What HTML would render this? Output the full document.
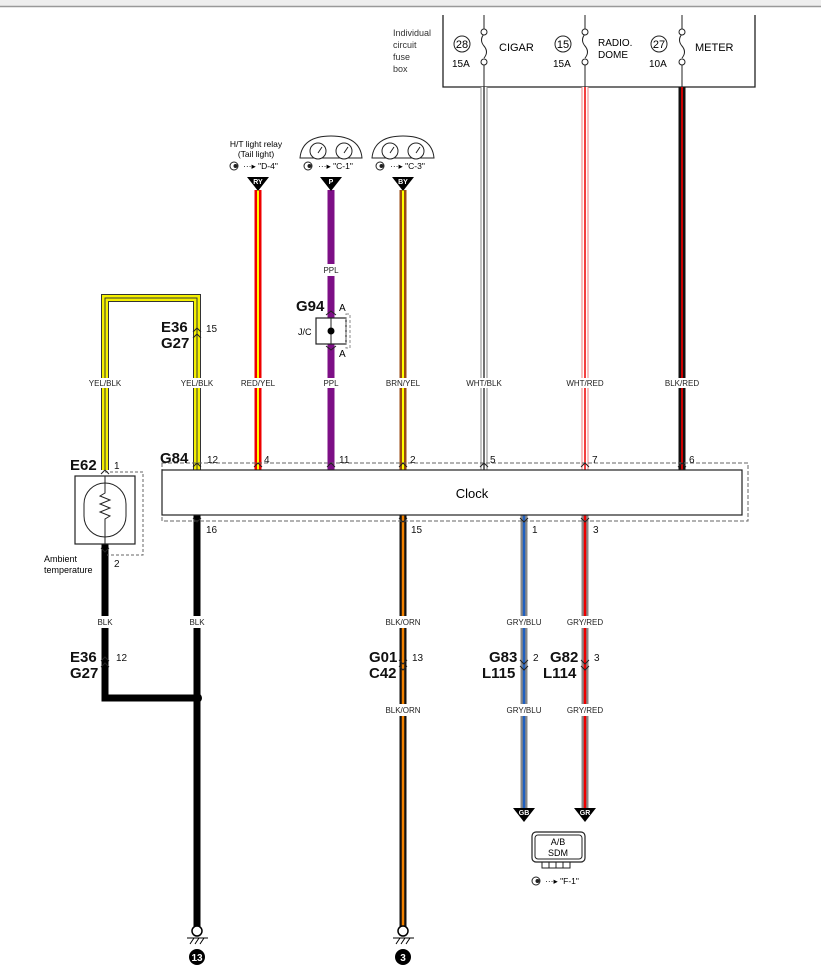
<!DOCTYPE html>
<html><head><meta charset="utf-8"><style>
html,body{margin:0;padding:0;background:#fff;}
svg{display:block;font-family:"Liberation Sans",sans-serif;}
.lb{font-size:8px;fill:#222;text-anchor:middle;}
.pn{font-size:10px;fill:#111;}
.cn{font-size:15px;font-weight:bold;fill:#111;}
</style></head><body>
<svg width="821" height="973" viewBox="0 0 821 973" xmlns="http://www.w3.org/2000/svg">
<defs>
<g id="eye"><circle cx="0" cy="0" r="4" fill="#fff" stroke="#222" stroke-width="1"/><circle cx="1.5" cy="0" r="2" fill="#222"/></g>
</defs>
<rect x="0" y="0" width="821" height="6" fill="#eeeeee"/>
<line x1="0" y1="6.5" x2="821" y2="6.5" stroke="#999" stroke-width="1.5"/>

<!-- fuse box -->
<path d="M443,15 V87 H755 V15" fill="none" stroke="#222" stroke-width="1.3"/>
<text x="393" y="36" font-size="9" fill="#333">Individual</text>
<text x="393" y="48" font-size="9" fill="#333">circuit</text>
<text x="393" y="60" font-size="9" fill="#333">fuse</text>
<text x="393" y="72" font-size="9" fill="#333">box</text>
<g fill="none" stroke="#222" stroke-width="1">
<circle cx="462" cy="44" r="8"/><circle cx="563" cy="44" r="8"/><circle cx="659" cy="44" r="8"/>
</g>
<text x="462" y="48" font-size="11" text-anchor="middle">28</text>
<text x="563" y="48" font-size="11" text-anchor="middle">15</text>
<text x="659" y="48" font-size="11" text-anchor="middle">27</text>
<text x="452" y="67" font-size="10">15A</text>
<text x="553" y="67" font-size="10">15A</text>
<text x="649" y="67" font-size="10">10A</text>
<text x="499" y="51" font-size="11">CIGAR</text>
<text x="598" y="46" font-size="10">RADIO.</text>
<text x="598" y="58" font-size="10">DOME</text>
<text x="695" y="51" font-size="11">METER</text>
<g fill="#fff" stroke="#222" stroke-width="1">
<line x1="484" y1="15" x2="484" y2="30"/><line x1="585" y1="15" x2="585" y2="30"/><line x1="682" y1="15" x2="682" y2="30"/>
<path d="M484,34 q-5,6 0,12 q5,6 0,12" fill="none"/>
<path d="M585,34 q-5,6 0,12 q5,6 0,12" fill="none"/>
<path d="M682,34 q-5,6 0,12 q5,6 0,12" fill="none"/>
<circle cx="484" cy="32" r="3"/><circle cx="484" cy="62" r="3"/>
<circle cx="585" cy="32" r="3"/><circle cx="585" cy="62" r="3"/>
<circle cx="682" cy="32" r="3"/><circle cx="682" cy="62" r="3"/>
<line x1="484" y1="65" x2="484" y2="87"/><line x1="585" y1="65" x2="585" y2="87"/><line x1="682" y1="65" x2="682" y2="87"/>
</g>

<!-- upper wires -->
<g fill="none" stroke-linejoin="miter">
<path d="M105,470 V298 H197 V470" stroke="#333" stroke-width="8"/>
<path d="M105,470 V298 H197 V470" stroke="#f5f000" stroke-width="6"/>
<path d="M105,470 V298 H197 V470" stroke="#333" stroke-width="1"/>
<line x1="258" y1="190" x2="258" y2="470" stroke="#e00" stroke-width="7"/>
<line x1="258" y1="190" x2="258" y2="470" stroke="#ff0" stroke-width="2"/>
<line x1="331" y1="190" x2="331" y2="470" stroke="#7d0f86" stroke-width="7"/>
<line x1="403" y1="190" x2="403" y2="470" stroke="#9a4a12" stroke-width="7"/>
<line x1="403" y1="190" x2="403" y2="470" stroke="#ff0" stroke-width="2"/>
<line x1="484" y1="87" x2="484" y2="470" stroke="#888" stroke-width="7"/>
<line x1="484" y1="87" x2="484" y2="470" stroke="#fff" stroke-width="5"/>
<line x1="484" y1="87" x2="484" y2="470" stroke="#111" stroke-width="1.2"/>
<line x1="585" y1="87" x2="585" y2="470" stroke="#f08080" stroke-width="7"/>
<line x1="585" y1="87" x2="585" y2="470" stroke="#fff" stroke-width="5"/>
<line x1="585" y1="87" x2="585" y2="470" stroke="#e00" stroke-width="1.5"/>
<line x1="682" y1="87" x2="682" y2="470" stroke="#111" stroke-width="7"/>
<line x1="682" y1="87" x2="682" y2="470" stroke="#c00" stroke-width="2"/>

<path d="M105,515 V698 H197" stroke="#000" stroke-width="7"/>
<line x1="197" y1="515" x2="197" y2="930" stroke="#000" stroke-width="7"/>
<line x1="403" y1="515" x2="403" y2="930" stroke="#111" stroke-width="7"/>
<line x1="403" y1="515" x2="403" y2="930" stroke="#f08000" stroke-width="2.5"/>
<line x1="524" y1="515" x2="524" y2="808" stroke="#888" stroke-width="7"/>
<line x1="524" y1="515" x2="524" y2="808" stroke="#2060c0" stroke-width="2.5"/>
<line x1="585" y1="515" x2="585" y2="808" stroke="#888" stroke-width="7"/>
<line x1="585" y1="515" x2="585" y2="808" stroke="#e00" stroke-width="2.5"/>
</g>
<circle cx="197" cy="698" r="5" fill="#000"/>

<g fill="#000">
<path d="M247,177 h22 l-11,14 z"/><path d="M320,177 h22 l-11,14 z"/><path d="M392,177 h22 l-11,14 z"/>
<path d="M513,808 h22 l-11,14 z"/><path d="M574,808 h22 l-11,14 z"/>
</g>
<g fill="#fff" font-size="7" font-weight="bold" text-anchor="middle">
<text x="258" y="184">RY</text><text x="331" y="184">P</text><text x="403" y="184">BY</text>
<text x="524" y="815">GB</text><text x="585" y="815">GR</text>
</g>

<!-- relay & meters -->
<text x="256" y="147" font-size="8.5" text-anchor="middle">H/T light relay</text>
<text x="256" y="157" font-size="8.5" text-anchor="middle">(Tail light)</text>
<use href="#eye" x="234" y="166"/><text x="243" y="169" font-size="8.5">···▸ "D-4"</text>
<g fill="#fff" stroke="#222" stroke-width="1">
<path d="M300,158 q2,-22 31,-22 q29,0 31,22 z"/>
<circle cx="318" cy="151" r="8"/><circle cx="344" cy="151" r="8"/>
<path d="M372,158 q2,-22 31,-22 q29,0 31,22 z"/>
<circle cx="390" cy="151" r="8"/><circle cx="416" cy="151" r="8"/>
<path d="M318,153 l4,-6 M344,153 l4,-6 M390,153 l4,-6 M416,153 l4,-6" fill="none"/>
</g>
<use href="#eye" x="308" y="166"/><text x="318" y="169" font-size="8.5">···▸ "C-1"</text>
<use href="#eye" x="380" y="166"/><text x="390" y="169" font-size="8.5">···▸ "C-3"</text>

<!-- G94 J/C -->
<rect x="316" y="318" width="30" height="26" fill="#fff" stroke="#222" stroke-width="1.2"/>
<line x1="331" y1="318" x2="331" y2="344" stroke="#222"/>
<circle cx="331" cy="331" r="3.5" fill="#000"/>
<rect x="346" y="314" width="4" height="34" fill="none" stroke="#888" stroke-dasharray="3,2"/>
<path d="M326,315 l5,-4 l5,4 M326,346 l5,4 l5,-4" fill="none" stroke="#222"/>
<text x="296" y="311" class="cn">G94</text>
<text x="339" y="311" font-size="10">A</text><text x="339" y="357" font-size="10">A</text>
<text x="298" y="335" font-size="9">J/C</text>

<text x="161" y="332" class="cn">E36</text><text x="161" y="348" class="cn">G27</text>
<path d="M193,332 l4,-4 l4,4 M193,338 l4,-4 l4,4" fill="none" stroke="#222"/>
<text x="206" y="332" class="pn">15</text>

<g>
<rect x="87" y="378" width="36" height="10" fill="#fff"/><text x="105" y="386" class="lb">YEL/BLK</text>
<rect x="179" y="378" width="36" height="10" fill="#fff"/><text x="197" y="386" class="lb">YEL/BLK</text>
<rect x="238" y="378" width="40" height="10" fill="#fff"/><text x="258" y="386" class="lb">RED/YEL</text>
<rect x="318" y="378" width="26" height="10" fill="#fff"/><text x="331" y="386" class="lb">PPL</text>
<rect x="318" y="264" width="26" height="12" fill="#fff"/><text x="331" y="273" class="lb">PPL</text>
<rect x="383" y="378" width="40" height="10" fill="#fff"/><text x="403" y="386" class="lb">BRN/YEL</text>
<rect x="464" y="378" width="40" height="10" fill="#fff"/><text x="484" y="386" class="lb">WHT/BLK</text>
<rect x="565" y="378" width="40" height="10" fill="#fff"/><text x="585" y="386" class="lb">WHT/RED</text>
<rect x="662" y="378" width="40" height="10" fill="#fff"/><text x="682" y="386" class="lb">BLK/RED</text>
<rect x="92" y="616" width="26" height="12" fill="#fff"/><text x="105" y="625" class="lb">BLK</text>
<rect x="184" y="616" width="26" height="12" fill="#fff"/><text x="197" y="625" class="lb">BLK</text>
<rect x="383" y="616" width="40" height="12" fill="#fff"/><text x="403" y="625" class="lb">BLK/ORN</text>
<rect x="504" y="616" width="40" height="12" fill="#fff"/><text x="524" y="625" class="lb">GRY/BLU</text>
<rect x="565" y="616" width="40" height="12" fill="#fff"/><text x="585" y="625" class="lb">GRY/RED</text>
<rect x="383" y="704" width="40" height="12" fill="#fff"/><text x="403" y="713" class="lb">BLK/ORN</text>
<rect x="504" y="704" width="40" height="12" fill="#fff"/><text x="524" y="713" class="lb">GRY/BLU</text>
<rect x="565" y="704" width="40" height="12" fill="#fff"/><text x="585" y="713" class="lb">GRY/RED</text>
</g>

<rect x="162" y="463" width="586" height="58" fill="none" stroke="#666" stroke-dasharray="4,2"/>
<rect x="162" y="470" width="580" height="45" fill="#fff" stroke="#222" stroke-width="1.2"/>
<text x="472" y="498" font-size="13" text-anchor="middle">Clock</text>
<g fill="none" stroke="#222">
<path d="M193,467 l4,-4 l4,4 M254,467 l4,-4 l4,4 M327,467 l4,-4 l4,4 M399,467 l4,-4 l4,4 M480,467 l4,-4 l4,4 M581,467 l4,-4 l4,4 M678,467 l4,-4 l4,4"/>
<path d="M193,518 l4,4 l4,-4 M399,518 l4,4 l4,-4 M520,518 l4,4 l4,-4 M581,518 l4,4 l4,-4"/>
</g>
<text x="160" y="463" class="cn">G84</text>
<g class="pn">
<text x="207" y="463">12</text><text x="264" y="463">4</text><text x="339" y="463">11</text><text x="410" y="463">2</text>
<text x="490" y="463">5</text><text x="592" y="463">7</text><text x="689" y="463">6</text>
<text x="206" y="533">16</text><text x="411" y="533">15</text><text x="532" y="533">1</text><text x="593" y="533">3</text>
</g>

<rect x="75" y="476" width="60" height="68" fill="#fff" stroke="#222" stroke-width="1.2"/>
<rect x="84" y="483" width="42" height="54" rx="21" fill="#fff" stroke="#222"/>
<path d="M105,476 V493 l-5,3 l10,4 l-10,4 l10,4 l-10,4 l10,4 l-5,3 V544" fill="none" stroke="#222"/>
<path d="M105,472 h38 v83 h-36" fill="none" stroke="#666" stroke-dasharray="3,2"/>
<path d="M101,474 l4,-4 l4,4 M101,548 l4,4 l4,-4" fill="none" stroke="#222"/>
<text x="70" y="470" class="cn">E62</text>
<text x="114" y="469" class="pn">1</text>
<text x="114" y="567" class="pn">2</text>
<text x="44" y="562" font-size="9">Ambient</text>
<text x="44" y="573" font-size="9">temperature</text>

<text x="70" y="662" class="cn">E36</text><text x="70" y="678" class="cn">G27</text>
<path d="M101,661 l4,-4 l4,4 M101,667 l4,-4 l4,4" fill="none" stroke="#222"/>
<text x="116" y="661" class="pn">12</text>
<text x="369" y="662" class="cn">G01</text><text x="369" y="678" class="cn">C42</text>
<path d="M399,660 l4,4 l4,-4 M399,666 l4,4 l4,-4" fill="none" stroke="#222"/>
<text x="412" y="661" class="pn">13</text>
<text x="489" y="662" class="cn">G83</text><text x="482" y="678" class="cn">L115</text>
<path d="M520,660 l4,4 l4,-4 M520,666 l4,4 l4,-4" fill="none" stroke="#222"/>
<text x="533" y="661" class="pn">2</text>
<text x="550" y="662" class="cn">G82</text><text x="543" y="678" class="cn">L114</text>
<path d="M581,660 l4,4 l4,-4 M581,666 l4,4 l4,-4" fill="none" stroke="#222"/>
<text x="594" y="661" class="pn">3</text>

<rect x="532" y="832" width="53" height="30" rx="4" fill="#fff" stroke="#222" stroke-width="1.2"/>
<rect x="535" y="835" width="47" height="24" rx="3" fill="none" stroke="#222"/>
<text x="558" y="845" font-size="9" text-anchor="middle">A/B</text>
<text x="558" y="856" font-size="9" text-anchor="middle">SDM</text>
<path d="M542,862 v6 h28 v-6 M549,862 v6 M556,862 v6 M563,862 v6" fill="none" stroke="#222"/>
<use href="#eye" x="536" y="881"/><text x="545" y="884" font-size="8.5">···▸ "F-1"</text>

<g fill="#fff" stroke="#000" stroke-width="1.5">
<circle cx="197" cy="931" r="5"/><circle cx="403" cy="931" r="5"/>
</g>
<g stroke="#000" stroke-width="1">
<line x1="187" y1="938" x2="208" y2="938"/><path d="M190,944 l4,-6 M195,944 l4,-6 M200,944 l4,-6" />
<line x1="393" y1="938" x2="414" y2="938"/><path d="M396,944 l4,-6 M401,944 l4,-6 M406,944 l4,-6" />
</g>
<circle cx="197" cy="957" r="8" fill="#000"/><circle cx="403" cy="957" r="8" fill="#000"/>
<text x="197" y="961" font-size="10" fill="#fff" text-anchor="middle" font-weight="bold">13</text>
<text x="403" y="961" font-size="10" fill="#fff" text-anchor="middle" font-weight="bold">3</text>
</svg>
</body></html>
